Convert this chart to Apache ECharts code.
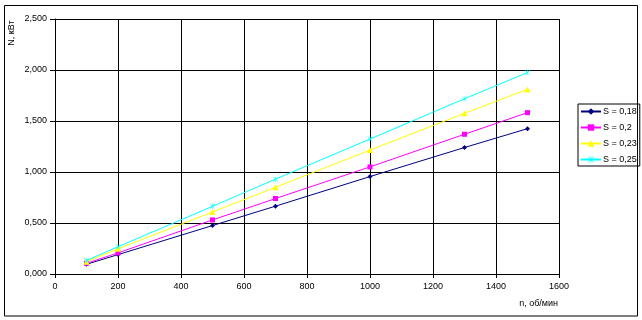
<!DOCTYPE html>
<html>
<head>
<meta charset="utf-8">
<script src="https://cdn.jsdelivr.net/npm/echarts@6/dist/echarts.min.js"></script>
<style>
html,body{margin:0;padding:0;background:#fff;}
#chart{width:642px;height:320px;}
</style>
</head>
<body>
<div id="chart"></div>
<script>
var speeds = [100, 200, 500, 700, 1000, 1300, 1500];
var seriesNames = ['S = 0,18', 'S = 0,2', 'S = 0,23', 'S = 0,25'];
var power018 = [0.095, 0.19, 0.475, 0.665, 0.955, 1.24, 1.425];
var power020 = [0.105, 0.207, 0.53, 0.74, 1.05, 1.37, 1.582];
var power023 = [0.12, 0.247, 0.608, 0.85, 1.215, 1.575, 1.81];
var power025 = [0.132, 0.267, 0.663, 0.93, 1.323, 1.718, 1.975];
var xTicks = [0, 200, 400, 600, 800, 1000, 1200, 1400, 1600];
var yTicks = [0, 0.5, 1, 1.5, 2, 2.5];

var colors = ['#000080', '#FF00FF', '#FFFF00', '#00FFFF'];
var symbols = ['diamond', 'rect', 'triangle',
  'path://M4.5,0h1v10h-1z M0,0.7L0.7,0L10,9.3L9.3,10z M9.3,0L10,0.7L0.7,10L0,9.3z'];
var symbolSizes = [5, 5, 6, 5];
var allData = [power018, power020, power023, power025];

function pairs(vals) { return speeds.map(function (n, i) { return [n, vals[i]]; }); }

var font = 'Liberation Sans, Arial, sans-serif';
var chart = echarts.init(document.getElementById('chart'), null, {renderer: 'canvas'});
chart.setOption({
  animation: false,
  backgroundColor: '#fff',
  grid: {left: 55, right: 83, top: 19, bottom: 46, show: false},
  xAxis: {
    type: 'value', min: xTicks[0], max: xTicks[xTicks.length - 1], interval: 200,
    axisLine: {lineStyle: {color: '#000', width: 1}},
    axisTick: {show: true, length: 4, lineStyle: {color: '#000'}},
    axisLabel: {color: '#000', fontSize: 9, fontFamily: font, margin: 8,
      formatter: function (v) { return String(v); }},
    splitLine: {show: true, lineStyle: {color: '#000', width: 1}}
  },
  yAxis: {
    type: 'value', min: yTicks[0], max: yTicks[yTicks.length - 1], interval: 0.5,
    axisLine: {show: true, lineStyle: {color: '#000', width: 1}},
    axisTick: {show: true, length: 5, lineStyle: {color: '#000'}},
    axisLabel: {color: '#000', fontSize: 9, fontFamily: font, margin: 8,
      formatter: function (v) { return v.toFixed(3).replace('.', ','); }},
    splitLine: {show: true, lineStyle: {color: '#000', width: 1}}
  },
  legend: {
    orient: 'vertical', left: 578, top: 104,
    itemWidth: 20, itemHeight: 8, itemGap: 7,
    padding: [3, 3, 2, 2],
    borderColor: '#000', borderWidth: 1, backgroundColor: '#fff',
    textStyle: {color: '#000', fontSize: 9, fontFamily: font, padding: [0, 0, 0, -3]},
    data: seriesNames
  },
  graphic: [
    {type: 'rect', shape: {x: 4.5, y: 5.5, width: 633, height: 310.5},
      style: {fill: 'none', stroke: '#000', lineWidth: 1}, silent: true, z: 100},
    {type: 'text', x: 12, y: 33, rotation: Math.PI / 2,
      style: {text: 'N, кВт', fill: '#000', font: '9px ' + font, textAlign: 'center', textVerticalAlign: 'middle'}},
    {type: 'text', x: 558, y: 304,
      style: {text: 'n, об/мин', fill: '#000', font: '9px ' + font, textAlign: 'right', textVerticalAlign: 'middle'}}
  ],
  series: allData.map(function (vals, i) {
    return {
      name: seriesNames[i], type: 'line', data: pairs(vals),
      symbol: symbols[i], symbolSize: symbolSizes[i], showSymbol: true,
      lineStyle: {color: colors[i], width: 1},
      itemStyle: {color: colors[i]},
      z: 2 + i
    };
  })
});
</script>
</body>
</html>
